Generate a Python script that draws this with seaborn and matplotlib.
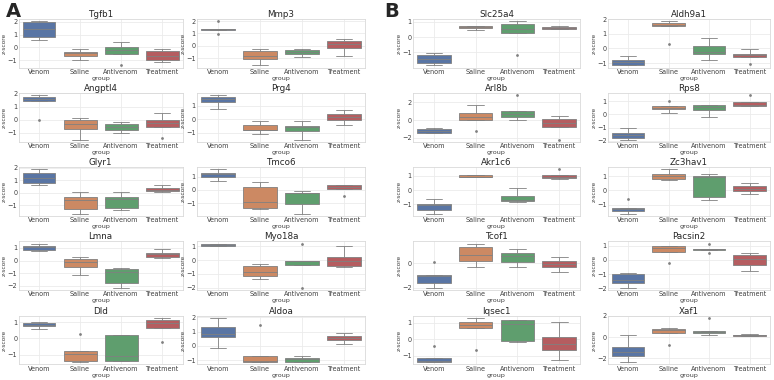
import numpy as np
import pandas as pd
import matplotlib
matplotlib.use('Agg')
import matplotlib.pyplot as plt
import seaborn as sns
from matplotlib.ticker import MultipleLocator

# 组别
groups = ['Venom', 'Saline', 'Antivenom', 'Treatment']

# 每个基因: 各组的 z-score 样本 (Venom, Saline, Antivenom, Treatment)
tgfb1 = [[0.6, 0.8, 1.45, 1.95, 2.05], [-1.0, -0.65, -0.45, -0.35, -0.1],
         [-1.4, -0.5, -0.2, 0.0, 0.4], [-1.15, -1.0, -0.65, -0.3, -0.15]]
mmp3 = [[0.95, 1.3, 1.35, 1.4, 2.0], [-1.6, -1.1, -0.8, -0.45, -0.25],
        [-0.9, -0.7, -0.5, -0.35, -0.25], [-0.8, -0.2, 0.15, 0.4, 0.55]]
angptl4 = [[-0.05, 1.45, 1.55, 1.7, 1.85], [-1.5, -0.7, -0.3, -0.05, 0.1],
           [-1.0, -0.75, -0.55, -0.3, -0.15], [-1.4, -0.55, -0.25, -0.05, 0.5]]
prg4 = [[0.76, 1.24, 1.48, 1.6, 1.76], [-1.09, -0.84, -0.8, -0.41, -0.11],
        [-1.52, -0.92, -0.56, -0.5, -0.16], [-0.47, -0.09, 0.17, 0.34, 0.64]]
glyr1 = [[0.65, 0.75, 1.2, 1.6, 1.85], [-1.65, -1.25, -0.6, -0.3, 0.1],
         [-1.4, -1.2, -0.5, -0.35, 0.1], [0.1, 0.15, 0.25, 0.4, 0.65]]
tmco6 = [[0.65, 0.95, 1.2, 1.3, 1.55], [-1.45, -1.4, -0.95, 0.2, 0.6],
         [-1.8, -1.05, -0.25, -0.2, -0.05], [-0.45, 0.05, 0.25, 0.35, 0.4]]
lmna = [[0.75, 0.85, 1.05, 1.15, 1.35], [-1.15, -0.5, -0.1, 0.15, 0.25],
        [-2.15, -1.75, -0.9, -0.7, -0.55], [0.2, 0.3, 0.5, 0.6, 0.9]]
myo18a = [[1.0, 1.0, 1.1, 1.15, 1.15], [-1.4, -1.15, -0.85, -0.45, -0.3],
          [-2.0, -0.35, -0.1, -0.05, 1.2], [-0.5, -0.45, -0.1, 0.25, 1.05]]
dld = [[0.6, 0.75, 0.85, 0.95, 1.0],
       [-1.45, -1.45, -1.35, -1.1, -0.95, -0.85, -0.75, -0.75, 0.25],
       [-1.4, -1.4, -1.1, 0.2, 0.2], [-0.2, 0.65, 0.95, 1.15, 1.25]]
aldoa = [[-0.15, 0.6, 0.85, 1.3, 1.95], [-1.15, -1.15, -1.1, -0.7, 1.45],
         [-1.15, -1.15, -0.95, -0.85, -0.7], [0.15, 0.4, 0.55, 0.7, 0.9]]

slc25a4 = [[-1.85, -1.7, -1.45, -1.15, -1.05], [0.5, 0.6, 0.65, 0.72, 0.75],
           [-1.15, 0.3, 0.55, 0.85, 1.05], [0.55, 0.57, 0.6, 0.65, 0.75]]
aldh9a1 = [[-1.15, -1.15, -0.9, -0.75, -0.5], [0.3, 1.55, 1.6, 1.75, 1.85],
           [-0.75, -0.4, -0.25, 0.15, 0.7], [-1.05, -0.6, -0.45, -0.35, -0.05]]
arl8b = [[-1.5, -1.45, -1.2, -1.0, -0.95], [-1.25, 0.05, 0.4, 0.8, 1.75],
         [0.0, 0.4, 0.73, 1.05, 2.8], [-2.2, -0.78, -0.38, 0.08, 0.46]]
rps8 = [[-1.9, -1.75, -1.55, -1.4, -1.05], [0.1, 0.4, 0.5, 0.62, 1.02],
        [-0.2, 0.3, 0.55, 0.7, 0.7], [0.62, 0.65, 0.7, 0.95, 1.45]]
akr1c6 = [[-1.65, -1.4, -1.05, -0.95, -0.65], [0.9, 0.9, 0.95, 1.05, 1.05],
          [-0.85, -0.75, -0.7, -0.38, 0.15], [0.8, 0.85, 0.95, 1.05, 1.45]]
zc3hav1 = [[-1.65, -1.65, -1.45, -1.4, -1.35, -1.3, -1.25, -1.25, -0.6],
           [0.75, 0.85, 1.05, 1.15, 1.5],
           [-0.65, -0.45, 0.95, 1.0, 1.15], [-0.25, -0.05, 0.1, 0.3, 0.5]]
tcof1 = [[-2.0, -2.0, -1.6, -1.3, -1.05, -1.02, -1.0, -1.0, 0.1],
         [-0.28, 0.15, 0.7, 1.35, 1.6],
         [-0.28, 0.1, 0.6, 0.8, 1.15], [-0.7, -0.35, -0.05, 0.2, 0.52]]
pacsin2 = [[-1.95, -1.65, -1.4, -1.0, -0.9], [-0.25, 0.55, 0.85, 1.0, 1.0],
           [0.45, 0.7, 0.75, 0.8, 1.15], [-0.8, -0.35, 0.05, 0.35, 0.5]]
iqsec1 = [[-1.4, -1.4, -1.3, -1.15, -0.4], [-0.65, 0.7, 0.9, 1.05, 1.3],
          [-0.15, -0.1, 0.95, 1.2, 1.2], [-1.25, -0.65, -0.3, 0.15, 1.05]]
xaf1 = [[-2.35, -1.8, -1.4, -0.95, 0.2], [-0.75, 0.35, 0.65, 0.75, 0.85],
        [0.2, 0.35, 0.5, 0.6, 1.8], [0.1, 0.15, 0.2, 0.25, 0.3]]

panel_a = [('Tgfb1', tgfb1), ('Mmp3', mmp3), ('Angptl4', angptl4), ('Prg4', prg4),
           ('Glyr1', glyr1), ('Tmco6', tmco6), ('Lmna', lmna), ('Myo18a', myo18a),
           ('Dld', dld), ('Aldoa', aldoa)]
panel_b = [('Slc25a4', slc25a4), ('Aldh9a1', aldh9a1), ('Arl8b', arl8b), ('Rps8', rps8),
           ('Akr1c6', akr1c6), ('Zc3hav1', zc3hav1), ('Tcof1', tcof1), ('Pacsin2', pacsin2),
           ('Iqsec1', iqsec1), ('Xaf1', xaf1)]

# 刻度间隔为2的基因
wide_ticks = {'Arl8b', 'Tcof1', 'Xaf1'}

sns.set_theme(style='whitegrid')
plt.rcParams['font.family'] = ['DejaVu Sans']

fig = plt.figure(figsize=(7.74, 3.8), dpi=100)

# 列位置 (left, width)
col_pos = [(0.024, 0.212), (0.2545, 0.217), (0.5336, 0.2158), (0.7855, 0.209)]
row_bottom = [0.822, 0.627, 0.432, 0.237, 0.041]
ax_h = 0.128


def draw_box(ax, gene, values):
    df = pd.DataFrame({
        'group': np.concatenate([[g] * len(v) for g, v in zip(groups, values)]),
        'z-score': np.concatenate(values),
    })
    sns.boxplot(data=df, x='group', y='z-score', hue='group', order=groups,
                hue_order=groups, palette='deep', legend=False, ax=ax,
                linewidth=0.6, linecolor='0.5', fliersize=1.0)
    ax.set_title(gene, fontsize=6.3, pad=1.5, color='0.15')
    ax.set_xlabel('group', fontsize=4.6, labelpad=0.5, color='0.25')
    ax.set_ylabel('z-score', fontsize=4.2, labelpad=0.5, color='0.25')
    ax.yaxis.set_major_locator(MultipleLocator(2 if gene in wide_ticks else 1))
    ax.tick_params(axis='both', labelsize=4.7, pad=1, length=0, labelcolor='0.25')
    ax.grid(True, color='0.92', linewidth=0.6)
    for s in ax.spines.values():
        s.set_color('0.85')
        s.set_linewidth(0.6)


for p, panel in enumerate([panel_a, panel_b]):
    for i, (gene, values) in enumerate(panel):
        r, c = divmod(i, 2)
        left, w = col_pos[p * 2 + c]
        ax = fig.add_axes([left, row_bottom[r], w, ax_h])
        draw_box(ax, gene, values)

fig.text(0.008, 0.995, 'A', fontsize=14, fontweight='bold', va='top')
fig.text(0.497, 0.995, 'B', fontsize=14, fontweight='bold', va='top')

fig.savefig('out.png', dpi=100)
plt.close()
